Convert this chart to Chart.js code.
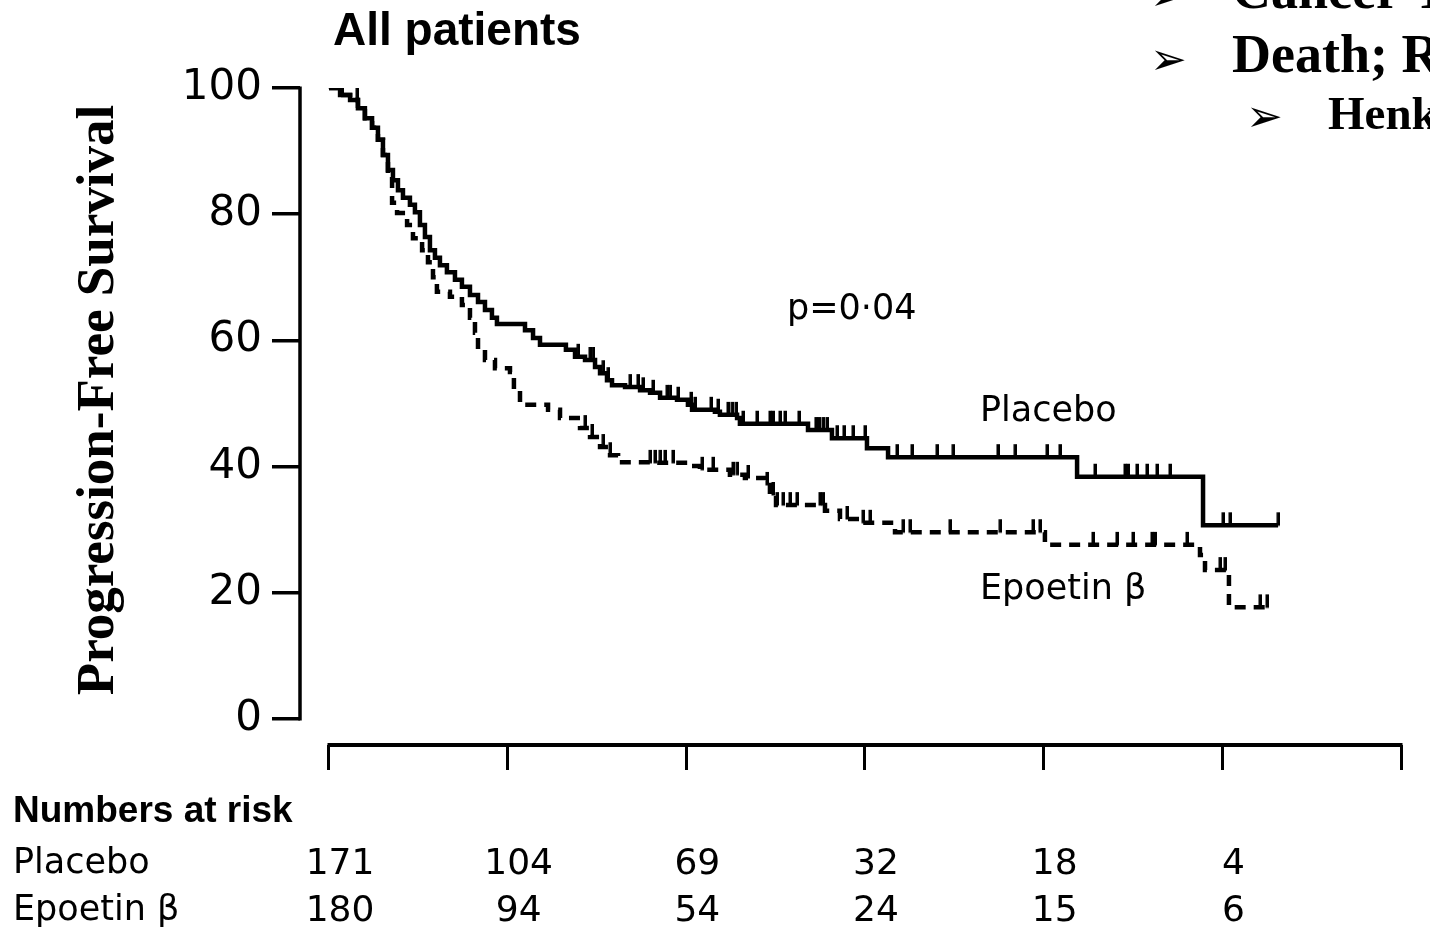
<!DOCTYPE html>
<html>
<head>
<meta charset="utf-8">
<title>Progression-Free Survival</title>
<script src="https://cdn.jsdelivr.net/npm/chart.js@4.4.1/dist/chart.umd.min.js"></script>
<style>
  html, body { margin: 0; padding: 0; background: #fff; overflow: hidden; }
  #wrap { width: 1430px; height: 946px; }
</style>
</head>
<body>
<div id="wrap"><canvas id="pfsChart" width="1430" height="946"></canvas></div>
<script>
// x values are in units of one axis interval (tick marks at 0..6, unlabelled)
const xTicks = [0, 1, 2, 3, 4, 5, 6];
const yTicks = [0, 20, 40, 60, 80, 100];

// Kaplan-Meier steps: time of the drop and survival after it
const placeboTime = [0, 0.062, 0.118, 0.162, 0.201, 0.241, 0.274, 0.302, 0.330, 0.358, 0.386, 0.414, 0.453, 0.481,
    0.509, 0.537, 0.565, 0.593, 0.621, 0.660, 0.705, 0.744, 0.789, 0.834, 0.873, 0.912, 0.940, 1.097, 1.142, 1.181,
    1.326, 1.377, 1.433, 1.489, 1.517, 1.556, 1.584, 1.657, 1.741, 1.797, 1.853, 1.948, 2.009, 2.032, 2.160, 2.188,
    2.284, 2.300, 2.681, 2.815, 3.011, 3.129, 4.187, 4.892, 5.312];
const placeboSurv = [100, 98.9, 98.1, 96.8, 95.2, 93.7, 91.8, 89.4, 87.0, 85.4, 83.8, 82.6, 81.5, 80.3,
    78.3, 76.4, 74.3, 73.1, 71.9, 70.8, 69.6, 68.5, 67.2, 66.1, 64.8, 63.6, 62.6, 61.6, 60.4, 59.3,
    58.5, 57.4, 56.9, 55.8, 54.8, 53.7, 52.9, 52.6, 52.1, 51.7, 50.9, 50.6, 49.8, 49.0, 48.7, 48.2,
    47.7, 46.8, 45.8, 44.5, 42.9, 41.5, 38.4, 30.7, 30.7];

const epoetinTime = [0, 0.062, 0.118, 0.162, 0.201, 0.241, 0.274, 0.302, 0.330, 0.353, 0.381, 0.437, 0.470, 0.521,
    0.554, 0.582, 0.604, 0.677, 0.744, 0.789, 0.817, 0.834, 0.873, 0.929, 1.013, 1.035, 1.069, 1.226, 1.293, 1.405,
    1.461, 1.517, 1.573, 1.618, 1.797, 2.021, 2.076, 2.244, 2.328, 2.440, 2.468, 2.502, 2.776, 2.860, 2.972, 3.168,
    4.007, 4.875, 4.903, 5.037, 5.256];
const epoetinSurv = [100, 98.9, 98.1, 96.8, 95.2, 93.7, 91.8, 89.4, 86.2, 81.8, 80.2, 78.3, 76.2, 74.3,
    72.4, 70.0, 67.7, 66.9, 65.6, 63.6, 61.2, 58.5, 56.9, 55.6, 55.0, 52.1, 49.8, 49.0, 47.7, 46.1,
    44.7, 43.1, 41.8, 40.7, 40.6, 40.1, 39.5, 38.7, 38.2, 37.1, 35.5, 33.9, 33.0, 31.7, 31.1, 29.6,
    27.6, 26.0, 23.6, 17.7, 17.7];

// censored observations (tick marks)
const placeboCensor = [0.006, 0.022, 0.073, 0.157, 1.394, 1.461, 1.478, 1.534, 1.562, 1.685, 1.729, 1.757, 1.813,
    1.892, 1.909, 1.953, 2.026, 2.048, 2.138, 2.177, 2.233, 2.256, 2.278, 2.317, 2.395, 2.468, 2.485, 2.524, 2.552,
    2.630, 2.725, 2.742, 2.765, 2.787, 2.843, 2.882, 2.933, 3.000, 3.179, 3.263, 3.403, 3.493, 3.744, 3.840, 4.019,
    4.091, 4.287, 4.455, 4.472, 4.522, 4.578, 4.634, 4.707, 5.004, 5.043, 5.312];
const epoetinCensor = [1.433, 1.472, 1.534, 1.573, 1.797, 1.824, 1.853, 1.880, 1.925, 2.088, 2.149, 2.261, 2.284,
    2.345, 2.451, 2.485, 2.507, 2.541, 2.580, 2.619, 2.748, 2.765, 2.899, 2.989, 3.028, 3.213, 3.252, 3.476, 3.756,
    3.940, 3.979, 4.276, 4.410, 4.500, 4.606, 4.623, 4.802, 4.987, 5.015, 5.211, 5.250];

// numbers at risk under each tick
const riskTimes = [0, 1, 2, 3, 4, 5];
const riskPlacebo = [171, 104, 69, 32, 18, 4];
const riskEpoetin = [180, 94, 54, 24, 15, 6];

// survival value of a step curve at time t
function survAt(times, surv, t) {
    let s = surv[0];
    for (let i = 0; i < times.length; i++) {
        if (times[i] <= t) s = surv[i];
    }
    return s;
}

function toPoints(times, surv) {
    return times.map((t, i) => ({ x: t, y: surv[i] }));
}

function censorPoints(censor, times, surv) {
    return censor.map(t => ({ x: t, y: survAt(times, surv, t) }));
}

// small vertical tick that sits on top of the curve
const tickMark = document.createElement('canvas');
tickMark.width = 4;
tickMark.height = 28;
const tctx = tickMark.getContext('2d');
tctx.fillStyle = '#000';
tctx.fillRect(0.5, 1, 3.5, 13.5);

// axes lines and all the text round the plot
const decorPlugin = {
    id: 'decor',
    afterDraw(chart) {
        const ctx = chart.ctx;
        const x = chart.scales.x;
        const y = chart.scales.y;
        const area = chart.chartArea;
        ctx.save();
        ctx.strokeStyle = '#000';
        ctx.lineCap = 'butt';

        // y axis line only from 0 to 100
        ctx.lineWidth = 3.5;
        ctx.beginPath();
        ctx.moveTo(area.left, y.getPixelForValue(yTicks[yTicks.length - 1]) - 1.5);
        ctx.lineTo(area.left, y.getPixelForValue(yTicks[0]) + 1.5);
        ctx.stroke();

        // x axis line from first to last tick
        ctx.lineWidth = 4;
        ctx.beginPath();
        ctx.moveTo(x.getPixelForValue(xTicks[0]) - 1.5, area.bottom);
        ctx.lineTo(x.getPixelForValue(xTicks[xTicks.length - 1]) + 1.5, area.bottom);
        ctx.stroke();

        ctx.fillStyle = '#000';
        ctx.textBaseline = 'alphabetic';

        // panel title
        ctx.font = 'bold 46px "Liberation Sans", Arial, sans-serif';
        ctx.textAlign = 'left';
        ctx.fillText('All patients', 333, 45);

        // y axis title
        ctx.save();
        ctx.translate(113, 400);
        ctx.rotate(-Math.PI / 2);
        ctx.font = 'bold 53px "Liberation Serif", "Times New Roman", serif';
        ctx.textAlign = 'center';
        ctx.fillText('Progression-Free Survival', 0, 0);
        ctx.restore();

        // annotations
        ctx.font = '35px "DejaVu Sans", sans-serif';
        ctx.fillText('p=0\u00b704', 787, 319);
        ctx.fillText('Placebo', 980, 421);
        ctx.fillText('Epoetin \u03b2', 980, 599);

        // numbers at risk table
        ctx.font = 'bold 37px "Liberation Sans", Arial, sans-serif';
        ctx.fillText('Numbers at risk', 13, 822);
        ctx.font = '35px "DejaVu Sans", sans-serif';
        ctx.fillText('Placebo', 13, 873);
        ctx.fillText('Epoetin \u03b2', 13, 920);
        ctx.textAlign = 'center';
        ctx.font = '36px "DejaVu Sans", sans-serif';
        riskTimes.forEach((t, i) => {
            const px = x.getPixelForValue(t) + 11;
            ctx.fillText(String(riskPlacebo[i]), px, 874);
            ctx.fillText(String(riskEpoetin[i]), px, 921);
        });

        // bits of the slide text cut off at the top right
        ctx.textAlign = 'left';
        ctx.font = 'bold 54px "Liberation Serif", "Times New Roman", serif';
        ctx.fillText('Cancer Treatment', 1232, 8);
        ctx.fillText('Death; Risk', 1232, 72);
        ctx.font = 'bold 47px "Liberation Serif", "Times New Roman", serif';
        ctx.fillText('Henke', 1328, 129);
        ctx.font = '44px "DejaVu Sans", sans-serif';
        ctx.fillText('\u27a2', 1150, 10);
        ctx.fillText('\u27a2', 1150, 74);
        ctx.fillText('\u27a2', 1246, 131);
        ctx.restore();
    }
};

const ctx = document.getElementById('pfsChart').getContext('2d');
Chart.defaults.font.family = '"DejaVu Sans", sans-serif';
Chart.defaults.color = '#000';

new Chart(ctx, {
    type: 'scatter',
    data: {
        datasets: [
            {
                label: 'Placebo',
                data: toPoints(placeboTime, placeboSurv),
                showLine: true,
                stepped: 'before',
                borderColor: '#000',
                borderWidth: 4.5,
                pointRadius: 0
            },
            {
                label: 'Epoetin \u03b2',
                data: toPoints(epoetinTime, epoetinSurv),
                showLine: true,
                stepped: 'before',
                borderColor: '#000',
                borderWidth: 4.5,
                borderDash: [11, 8],
                pointRadius: 0
            },
            {
                label: 'Placebo censored',
                data: censorPoints(placeboCensor, placeboTime, placeboSurv),
                showLine: false,
                pointStyle: tickMark,
                pointRadius: 3
            },
            {
                label: 'Epoetin censored',
                data: censorPoints(epoetinCensor, epoetinTime, epoetinSurv),
                showLine: false,
                pointStyle: tickMark,
                pointRadius: 3
            }
        ]
    },
    options: {
        responsive: false,
        animation: false,
        devicePixelRatio: 1,
        layout: { padding: { left: 0, top: 88, right: 29, bottom: 0 } },
        plugins: {
            legend: { display: false },
            tooltip: { enabled: false }
        },
        scales: {
            x: {
                type: 'linear',
                min: -0.1623,
                max: 6,
                border: { display: false },
                grid: {
                    drawOnChartArea: false,
                    drawTicks: true,
                    tickLength: 25,
                    lineWidth: 3,
                    color: '#000'
                },
                ticks: { display: false },
                afterBuildTicks: scale => { scale.ticks = xTicks.map(v => ({ value: v })); },
                afterFit: scale => { scale.height = 201; }
            },
            y: {
                min: -4.12,
                max: 100,
                border: { display: false },
                grid: {
                    drawOnChartArea: false,
                    drawTicks: true,
                    tickLength: 28,
                    lineWidth: 3.5,
                    color: '#000'
                },
                ticks: {
                    padding: 10,
                    font: { size: 42 },
                    color: '#000'
                },
                afterBuildTicks: scale => { scale.ticks = yTicks.map(v => ({ value: v })); },
                afterFit: scale => { scale.width = 300; }
            }
        }
    },
    plugins: [decorPlugin]
});
</script>
</body>
</html>
